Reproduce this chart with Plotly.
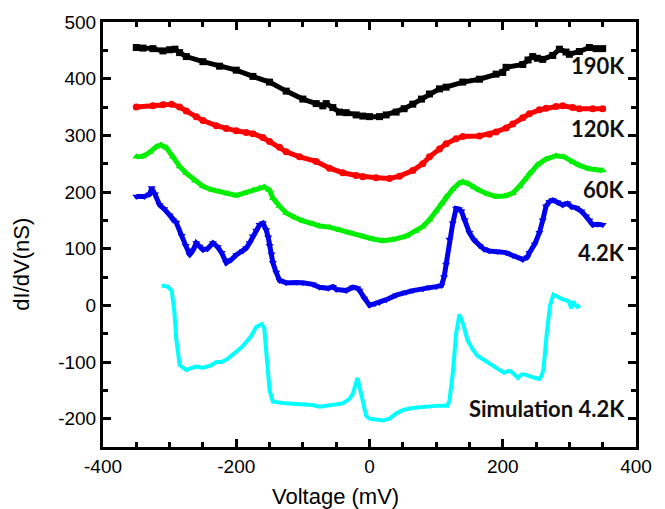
import plotly.graph_objects as go

# Tunnelling conductance dI/dV versus bias voltage at several temperatures
v_190K = [-350, -340, -325, -310, -300, -292, -285, -275, -250, -225, -200, -175, -150, -125, -100,
          -80, -70, -65, -55, -45, -35, -20, -10, 0, 15, 25, 40, 52, 65, 78, 90, 105, 115, 140, 165,
          190, 200, 205, 230, 238, 245, 252, 260, 275, 285, 295, 300, 315, 330, 340, 350]
g_190K = [455, 454, 453, 449, 451, 452, 446, 439, 430, 422, 415, 404, 394, 378, 364,
          356, 352, 356, 349, 341, 340, 336, 334, 333, 333, 336, 341, 347, 355, 364, 373, 382, 385, 394, 399,
          408, 411, 420, 425, 433, 439, 436, 434, 441, 452, 447, 443, 448, 455, 453, 453]

v_120K = [-350, -325, -310, -297, -285, -275, -260, -250, -230, -215, -200, -185, -175, -160, -150,
          -135, -125, -105, -80, -60, -40, -20, -10, 10, 30, 45, 65, 80, 90, 105, 115, 130, 140, 165,
          180, 190, 205, 215, 230, 240, 255, 265, 280, 290, 305, 315, 335, 350]
g_120K = [350, 352, 354, 355, 350, 343, 333, 326, 317, 312, 308, 305, 303, 296, 289,
          279, 271, 262, 254, 242, 234, 229, 227, 225, 224, 228, 238, 250, 262, 276, 285, 294, 298, 299,
          302, 306, 313, 320, 331, 338, 345, 348, 351, 352, 349, 347, 347, 347]

v_60K = [-350, -340, -330, -320, -313, -305, -295, -285, -275, -262, -250, -237, -225, -212, -200,
         -188, -175, -165, -158, -150, -145, -135, -125, -112, -100, -85, -75, -60, -45, -30, -10, 5,
         20, 35, 55, 70, 80, 90, 100, 108, 115, 125, 135, 140, 148, 157, 165, 178, 190, 203, 215, 225,
         233, 240, 252, 265, 280, 292, 305, 315, 330, 350]
g_60K = [262, 263, 270, 280, 283, 278, 262, 245, 233, 220, 210, 204, 201, 197, 194,
         198, 203, 207, 209, 203, 189, 175, 163, 155, 149, 144, 140, 138, 133, 128, 122, 117,
         114, 116, 122, 131, 139, 151, 167, 180, 192, 205, 216, 218, 215, 208, 203, 196, 192, 193, 198, 210,
         222, 233, 248, 258, 264, 262, 253, 247, 241, 238]

v_4K = [-350, -338, -330, -327, -322, -315, -308, -300, -295, -290, -282, -276, -270, -265, -260,
        -255, -250, -243, -235, -228, -222, -215, -208, -200, -190, -185, -180, -175, -170, -165, -160,
        -155, -152, -150, -147, -145, -140, -135, -125, -110, -100, -85, -75, -62, -55, -50, -35, -25,
        -18, -15, -8, 0, 8, 15, 25, 40, 55, 65, 80, 90, 100, 108, 112, 115, 120, 125, 130, 134, 138,
        143, 150, 157, 165, 172, 180, 192, 205, 215, 230, 237, 240, 248, 255, 260, 265, 270, 275, 282,
        290, 297, 303, 310, 318, 325, 330, 335, 342, 350]
g_4K = [192, 192, 196, 207, 196, 177, 170, 159, 150, 146, 123, 105, 89, 97, 110,
        104, 98, 100, 110, 103, 93, 75, 80, 89, 96, 101, 110, 122, 132, 142, 145,
        133, 120, 105, 90, 75, 58, 44, 40, 41, 40, 37, 32, 30, 33, 28, 26, 32,
        30, 26, 12, 0, 3, 5, 10, 18, 23, 26, 29, 32, 33, 35, 50, 72, 116, 145, 171, 170, 166,
        150, 128, 115, 105, 99, 96, 95, 93, 88, 81, 85, 93, 108, 128, 150, 175, 183, 186, 182,
        177, 180, 174, 172, 166, 157, 150, 142, 143, 142]

v_sim = [-312, -303, -297, -293, -290, -287, -285, -280, -275, -268, -260, -250, -245, -238, -230,
         -222, -215, -208, -200, -192, -185, -178, -170, -162, -158, -155, -153, -150, -145, -135, -125,
         -110, -100, -85, -75, -70, -55, -40, -30, -25, -18, -14, -10, -5, 0, 20, 30, 40, 50, 60, 75,
         91, 105, 117, 120, 125, 130, 135, 141, 147, 155, 162, 172, 180, 187, 195, 202, 208, 213, 218,
         223, 228, 233, 245, 255, 258, 261, 266, 271, 276, 283, 289, 295, 299, 303, 306, 309, 312, 316]
g_sim = [35, 33, 26, -10, -60, -90, -105, -110, -114, -111, -108, -110, -108, -106, -100,
         -100, -96, -90, -82, -74, -65, -55, -38, -33, -40, -80, -117, -150, -170, -172, -173,
         -174, -175, -176, -179, -178, -176, -173, -165, -156, -128, -150, -175, -195, -200, -203, -200, -191, -185, -182, -180,
         -178, -177, -177, -168, -120, -50, -16, -35, -61, -78, -89, -96, -103, -108, -114, -119, -116, -117, -123,
         -128, -122, -122, -127, -130, -125, -114, -50, 0, 19, 14, 11, 9, 7, -5, 7, 0, -3, 0]

x_ticks = [-400, -200, 0, 200, 400]
x_tick_text = ["-400", "-200", "0", "200", "400"]
y_ticks = [-200, -100, 0, 100, 200, 300, 400, 500]
y_tick_text = ["-200", "-100", "0", "100", "200", "300", "400", "500"]

# curve labels and the conductance level they sit at
label_text = ["190K", "120K", "60K", "4.2K", "Simulation 4.2K"]
label_level = [423, 312, 205, 93, -182]

W, H = 665, 509
ML, MR, MT, MB = 103, 29, 18, 62

fig = go.Figure()

measured = [
    ("190K", v_190K, g_190K, "#000000", "square"),
    ("120K", v_120K, g_120K, "#ff0000", "circle"),
    ("60K", v_60K, g_60K, "#00ee00", "triangle-up"),
    ("4.2K", v_4K, g_4K, "#0000ee", "triangle-down"),
]
for name, xs, ys, color, symbol in measured:
    fig.add_trace(go.Scatter(
        x=xs, y=ys, name=name, mode="lines+markers",
        line=dict(color=color, width=5),
        marker=dict(color=color, symbol=symbol, size=7),
    ))

fig.add_trace(go.Scatter(
    x=v_sim, y=g_sim, name="Simulation 4.2K", mode="lines",
    line=dict(color="#00ffff", width=4),
))

label_font = dict(family="Lato", size=22, color="#111111")
for text, yv in zip(label_text, label_level):
    fig.add_annotation(x=387, y=yv, xref="x", yref="y", text="<b>" + text + "</b>",
                       showarrow=False, xanchor="right", yanchor="middle", font=label_font)


def px_to_paper(px, py):
    return (px - ML) / (W - ML - MR), 1 - (py - MT) / (H - MT - MB)


tick_font = dict(family="Liberation Sans, Arial", size=19, color="#000000")
title_font = dict(family="Liberation Sans, Arial", size=22, color="#000000")
ax, ay = px_to_paper(335, 497)
fig.add_annotation(x=ax, y=ay, xref="paper", yref="paper", text="Voltage (mV)",
                   showarrow=False, xanchor="center", yanchor="middle", font=title_font)
ax, ay = px_to_paper(22, 263)
fig.add_annotation(x=ax, y=ay, xref="paper", yref="paper", text="dI/dV(nS)",
                   showarrow=False, textangle=-90, xanchor="center", yanchor="middle", font=title_font)

fig.update_layout(
    width=W, height=H,
    margin=dict(l=ML, r=MR, t=MT, b=MB),
    paper_bgcolor="white", plot_bgcolor="white",
    showlegend=False,
    font=tick_font,
)

common_axis = dict(
    showline=True, linecolor="black", linewidth=3, mirror="ticks",
    ticks="inside", ticklen=8, tickwidth=2.5, tickcolor="black",
    showgrid=False, zeroline=False, tickfont=tick_font,
)
minor_ticks = dict(dtick=50, ticks="inside", ticklen=5, tickwidth=2.5, tickcolor="black", showgrid=False)
fig.update_xaxes(range=[-400, 400], tickvals=x_ticks, ticktext=x_tick_text,
                 minor=minor_ticks, **common_axis)
fig.update_yaxes(range=[-250, 500], tickvals=y_ticks, ticktext=y_tick_text,
                 minor=minor_ticks, **common_axis)

fig.write_html("out.html")
